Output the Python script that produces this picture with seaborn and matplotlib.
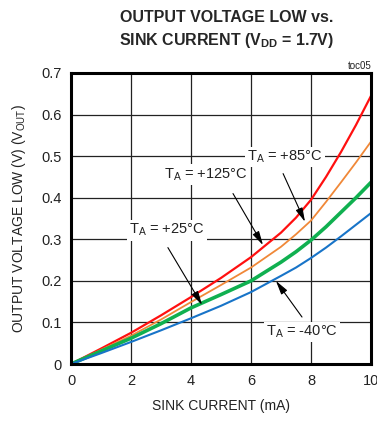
import matplotlib
matplotlib.use("Agg")
import matplotlib.pyplot as plt
import seaborn as sns
import pandas as pd
from matplotlib import font_manager

# Sink current (mA) and output-low voltage (V) per ambient temperature
current_ma = [0, 1, 2, 3, 4, 5, 6, 7, 7.5, 8, 8.5, 9, 9.5, 10]
vout_125 = [0, 0.037, 0.075, 0.117, 0.161, 0.207, 0.257, 0.316, 0.352, 0.395, 0.450, 0.510, 0.575, 0.645]
vout_85 = [0, 0.034, 0.068, 0.107, 0.149, 0.190, 0.232, 0.282, 0.312, 0.345, 0.390, 0.437, 0.485, 0.535]
vout_25 = [0, 0.031, 0.062, 0.097, 0.135, 0.167, 0.200, 0.245, 0.270, 0.298, 0.330, 0.365, 0.400, 0.437]
vout_m40 = [0, 0.026, 0.053, 0.081, 0.110, 0.140, 0.173, 0.212, 0.232, 0.255, 0.280, 0.307, 0.335, 0.363]

series_names = ["+125", "+85", "+25", "-40"]
series_values = [vout_125, vout_85, vout_25, vout_m40]
palette = {"+125": "#FF1010", "+85": "#F08838", "+25": "#10B050", "-40": "#1874C8"}
widths = {"+125": 1.6, "+85": 1.3, "+25": 2.6, "-40": 1.5}

x_ticks = [0, 2, 4, 6, 8, 10]
y_ticks = [0, 0.1, 0.2, 0.3, 0.4, 0.5, 0.6, 0.7]
y_tick_labels = ["0", "0.1", "0.2", "0.3", "0.4", "0.5", "0.6", "0.7"]

rows = []
for name, vals in zip(series_names, series_values):
    for xi, yi in zip(current_ma, vals):
        rows.append({"current": xi, "vout": yi, "temp": name})
df = pd.DataFrame(rows)

sns.set_theme(style="white")
installed = {f.name for f in font_manager.fontManager.ttflist}
narrow = "Liberation Sans Narrow" if "Liberation Sans Narrow" in installed else "Liberation Sans"
plt.rcParams["font.family"] = [narrow, "DejaVu Sans"]
plt.rcParams["mathtext.fontset"] = "custom"
plt.rcParams["mathtext.rm"] = narrow
plt.rcParams["mathtext.it"] = narrow
plt.rcParams["mathtext.bf"] = narrow + ":bold"

fig = plt.figure(figsize=(3.77, 4.21), dpi=100)
ax = fig.add_axes([71 / 377, 57 / 421, 300 / 377, 291 / 421])

for name in series_names:
    sub = df[df["temp"] == name]
    sns.lineplot(data=sub, x="current", y="vout", color=palette[name],
                 linewidth=widths[name], ax=ax, legend=False, zorder=3)

ax.set_xlim(0, 10)
ax.set_ylim(0, 0.7)
ax.set_xticks(x_ticks)
ax.set_yticks(y_ticks)
ax.set_yticklabels(y_tick_labels)
ax.tick_params(axis="both", length=0, labelsize=10.5, colors="#222222", pad=7)
ax.grid(True, color="#222222", linewidth=0.9)
for s in ax.spines.values():
    s.set_linewidth(2.2)
    s.set_color("black")
    s.set_zorder(5)

ax.set_xlabel("SINK CURRENT (mA)", fontsize=10, color="#222222", labelpad=8)
ax.set_ylabel(r"OUTPUT VOLTAGE LOW (V) (V$_{\mathrm{OUT}}$)", fontsize=10,
              color="#222222", labelpad=9)

fig.text(0.60, 0.959, "OUTPUT VOLTAGE LOW vs.", ha="center", va="center",
         fontsize=11.5, fontweight="bold")
fig.text(0.60, 0.904, r"SINK CURRENT (V$_{\mathbf{DD}}$ = 1.7V)", ha="center",
         va="center", fontsize=11.5, fontweight="bold")
fig.text(0.985, 0.843, "toc05", ha="right", va="center", fontsize=7, color="#222222")

bbox = dict(boxstyle="square,pad=0.15", fc="white", ec="none")
arrow = dict(arrowstyle="-|>,head_length=0.7,head_width=0.18", color="black",
             lw=0.8, shrinkA=0, shrinkB=0)
labels = [
    (r"T$_{\mathrm{A}}$ = +125°C", (6.4, 0.286), (4.48, 0.455), (5.4, 0.41)),
    (r"T$_{\mathrm{A}}$ = +85°C", (7.8, 0.342), (7.13, 0.498), (7.07, 0.458)),
    (r"T$_{\mathrm{A}}$ = +25°C", (4.37, 0.142), (3.2, 0.322), (3.23, 0.28)),
    (r"T$_{\mathrm{A}}$ = -40°C", (6.83, 0.200), (7.7, 0.077), (7.7, 0.113)),
]
for text, tip, tpos, start in labels:
    ax.annotate("", xy=tip, xytext=start, arrowprops=arrow, zorder=4)
    ax.text(tpos[0], tpos[1], text, ha="center", va="center", fontsize=10.5,
            color="#222222", bbox=bbox, zorder=4)

fig.savefig("out.png", dpi=100)
